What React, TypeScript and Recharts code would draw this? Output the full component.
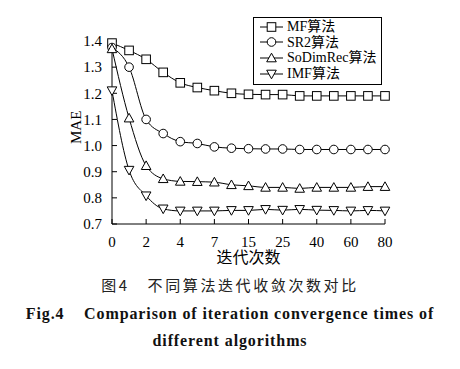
import React from 'react';
import { LineChart, Line, XAxis, YAxis } from 'recharts';

// 横轴刻度标签（每两个采样点一个标签）
const TICK_LABELS = ['0', '2', '4', '7', '15', '25', '40', '60', '80'];
const STEPS = [0, 1, 2, 3, 4, 5, 6, 7, 8, 9, 10, 11, 12, 13, 14, 15, 16];

const MF = [1.392, 1.364, 1.33, 1.28, 1.24, 1.222, 1.21, 1.2, 1.196, 1.195, 1.195, 1.19, 1.19, 1.19, 1.19, 1.19, 1.19];
const SR2 = [1.375, 1.3, 1.1, 1.046, 1.015, 1.008, 0.995, 0.99, 0.988, 0.987, 0.987, 0.985, 0.985, 0.985, 0.985, 0.985, 0.985];
const SODIMREC = [1.37, 1.105, 0.923, 0.873, 0.863, 0.862, 0.86, 0.85, 0.846, 0.84, 0.84, 0.836, 0.84, 0.84, 0.84, 0.843, 0.843];
const IMF = [1.21, 0.906, 0.808, 0.758, 0.75, 0.75, 0.75, 0.752, 0.752, 0.756, 0.753, 0.756, 0.753, 0.752, 0.75, 0.752, 0.75];

const SERIES = [
    { key: 'mf', name: 'MF算法', shape: 'square', values: MF },
    { key: 'sr2', name: 'SR2算法', shape: 'circle', values: SR2 },
    { key: 'sodim', name: 'SoDimRec算法', shape: 'up', values: SODIMREC },
    { key: 'imf', name: 'IMF算法', shape: 'down', values: IMF },
];

const data = STEPS.map((s, i) => {
    const row: any = { step: s };
    SERIES.forEach(ser => { row[ser.key] = ser.values[i]; });
    return row;
});

const SERIF = '"Liberation Serif", "Times New Roman", "Noto Sans CJK SC", serif';

// 空心标记
const Marker = ({ shape, cx, cy }: { shape: string; cx: number; cy: number }) => {
    const r = 4.3;
    const common = { fill: '#fff', stroke: '#000', strokeWidth: 1 };
    if (shape === 'square') return <rect x={cx - r} y={cy - r} width={r * 2} height={r * 2} {...common} />;
    if (shape === 'circle') return <circle cx={cx} cy={cy} r={r} {...common} />;
    if (shape === 'up') return <polygon points={`${cx},${cy - r - 0.5} ${cx - r - 0.5},${cy + r - 0.5} ${cx + r + 0.5},${cy + r - 0.5}`} {...common} />;
    return <polygon points={`${cx},${cy + r + 0.5} ${cx - r - 0.5},${cy - r + 0.5} ${cx + r + 0.5},${cy - r + 0.5}`} {...common} />;
};

const makeDot = (shape: string) => (props: any) => {
    const { cx, cy, index } = props;
    if (cx == null || cy == null) return <g key={index} />;
    return <Marker key={index} shape={shape} cx={cx} cy={cy} />;
};

const LegendBox = () => (
    <div style={{
        position: 'absolute', left: 253, top: 17,
        border: '1px solid #000', background: '#fff', width: 129, height: 68,
        boxSizing: 'border-box', padding: '1px 0 0 4px', fontFamily: SERIF, fontSize: 14, color: '#000'
    }}>
        {SERIES.map(s => (
            <div key={s.key} style={{ display: 'flex', alignItems: 'center', height: 15.6, lineHeight: '15px' }}>
                <svg width={26} height={14} style={{ flex: 'none' }}>
                    <line x1={2} y1={7} x2={25} y2={7} stroke="#000" strokeWidth={1} />
                    <Marker shape={s.shape} cx={13.5} cy={7} />
                </svg>
                <span style={{ marginLeft: 3, whiteSpace: 'nowrap' }}>{s.name}</span>
            </div>
        ))}
    </div>
);

export default function App() {
    return (
        <div style={{ position: 'absolute', left: 0, top: 0, width: 460, height: 369, background: '#fff' }}>
            <LineChart width={460} height={369} data={data} margin={{ top: 41, right: 75, bottom: 105, left: 62 }}>
                <XAxis
                    dataKey="step"
                    type="number"
                    domain={[0, 16]}
                    ticks={[0, 2, 4, 6, 8, 10, 12, 14, 16]}
                    interval={0}
                    tickFormatter={(v: number) => TICK_LABELS[v / 2]}
                    height={40}
                    stroke="#000"
                    tickSize={5}
                    tick={{ fill: '#000', fontSize: 15, fontFamily: SERIF, dy: 5 }}
                    tickLine={{ transform: 'translate(0,-5)' }}
                    label={{ value: '迭代次数', position: 'insideBottom', offset: 1, fill: '#000', fontSize: 16, fontFamily: SERIF }}
                />
                <YAxis
                    type="number"
                    domain={[0.7, 1.4]}
                    ticks={[0.7, 0.8, 0.9, 1.0, 1.1, 1.2, 1.3, 1.4]}
                    interval={0}
                    tickFormatter={(v: number) => v.toFixed(1)}
                    width={50}
                    stroke="#000"
                    tickSize={5}
                    tick={{ fill: '#000', fontSize: 15, fontFamily: SERIF, dx: -3 }}
                    tickLine={{ transform: 'translate(5,0)' }}
                />
                {SERIES.map(s => (
                    <Line
                        key={s.key}
                        dataKey={s.key}
                        name={s.name}
                        type="monotone"
                        stroke="#000"
                        strokeWidth={1}
                        dot={makeDot(s.shape)}
                        activeDot={false}
                        isAnimationActive={false}
                    />
                ))}
            </LineChart>
            <LegendBox />
            <div style={{
                position: 'absolute', left: 63, top: 118, width: 26, height: 26,
                transform: 'rotate(-90deg)', fontFamily: SERIF, fontSize: 15, textAlign: 'center', lineHeight: '26px'
            }}>MAE</div>
            <div style={{
                position: 'absolute', left: 0, top: 274, width: 460, textAlign: 'center',
                fontFamily: '"Noto Sans CJK SC", sans-serif', fontSize: 15, letterSpacing: 2.6, color: '#222'
            }}>图4&nbsp;&nbsp;&nbsp;不同算法迭代收敛次数对比</div>
            <div style={{
                position: 'absolute', left: 0, top: 305, width: 460, textAlign: 'center',
                fontFamily: SERIF, fontWeight: 'bold', fontSize: 16, letterSpacing: 0.9, whiteSpace: 'nowrap', color: '#111'
            }}>Fig.4&nbsp;&nbsp;&nbsp;&nbsp;Comparison of iteration convergence times of</div>
            <div style={{
                position: 'absolute', left: 0, top: 332, width: 460, textAlign: 'center',
                fontFamily: SERIF, fontWeight: 'bold', fontSize: 16, letterSpacing: 0.9, color: '#111'
            }}>different algorithms</div>
        </div>
    );
}
